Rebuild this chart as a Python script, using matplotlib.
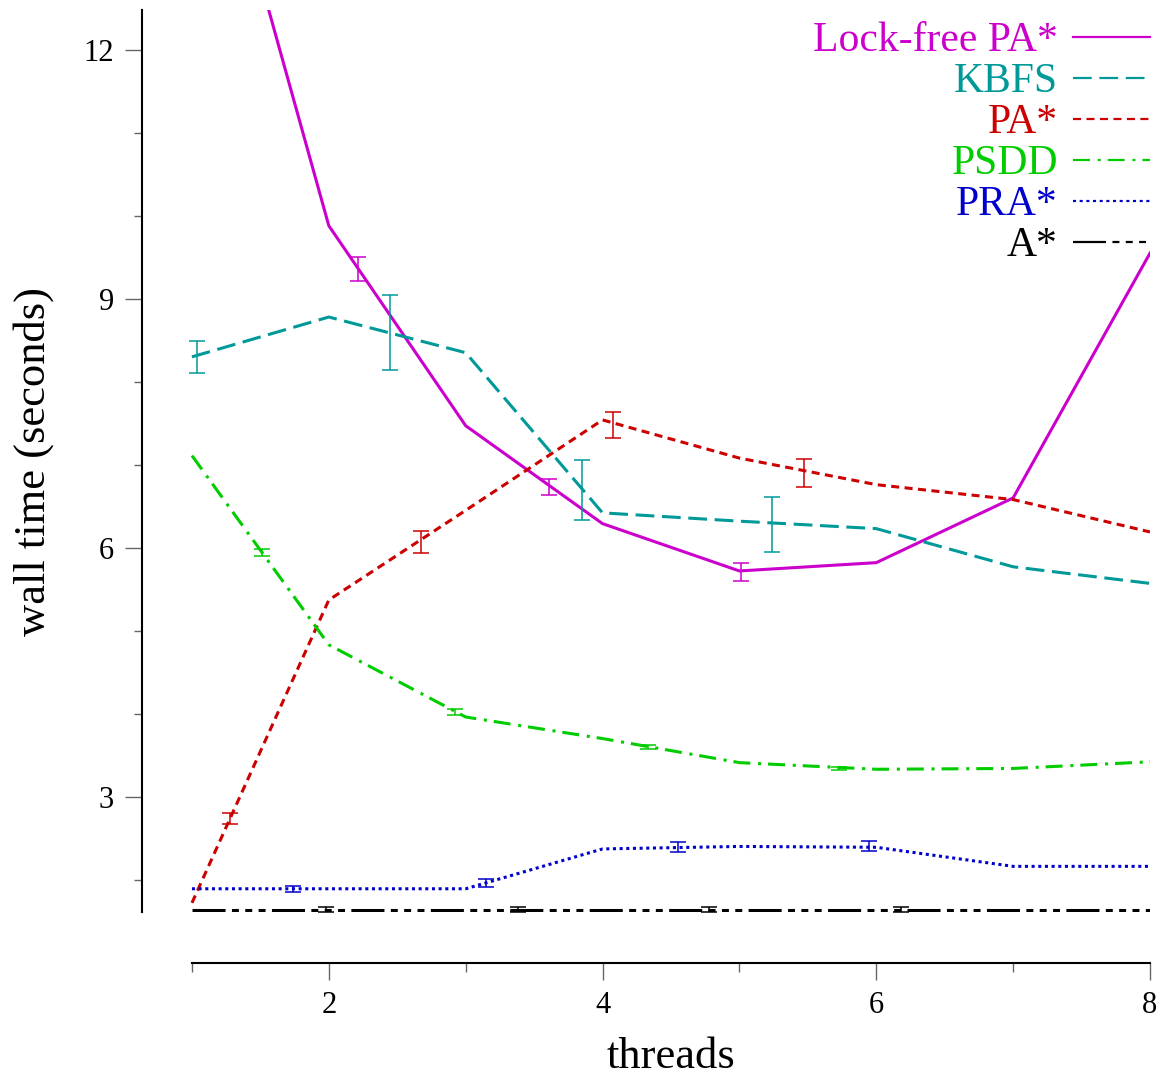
"""Wall time vs. threads for parallel search algorithms."""
import numpy as np
import matplotlib
matplotlib.use('Agg')
import matplotlib.pyplot as plt
from matplotlib.lines import Line2D
from matplotlib.ticker import MultipleLocator

plt.rcParams.update({
    'font.family': ['Liberation Serif', 'DejaVu Serif'],
    'lines.scale_dashes': False,
})

# Datos
threads = [1, 2, 3, 4, 5, 6, 7, 8]

lockfree = [15.8, 9.88, 7.47, 6.29, 5.72, 5.82, 6.60, 9.55]
kbfs = [8.30, 8.78, 8.35, 6.42, 6.32, 6.23, 5.77, 5.57]
pastar = [1.72, 5.37, 6.45, 7.54, 7.08, 6.76, 6.58, 6.19]
psdd = [7.11, 4.83, 3.96, 3.70, 3.41, 3.33, 3.34, 3.42]
prastar = [1.89, 1.89, 1.89, 2.37, 2.40, 2.39, 2.16, 2.16]
astar = [1.64, 1.64, 1.64, 1.64, 1.64, 1.64, 1.64, 1.64]

# Barras de error (posición x, centro, semiancho)
lockfree_eb_x = [2.21, 3.61, 5.01]
lockfree_eb_y = [9.36, 6.73, 5.71]
lockfree_eb_e = [0.145, 0.10, 0.11]

kbfs_eb_x = [1.04, 2.45, 3.85, 5.24]
kbfs_eb_y = [8.30, 8.59, 6.70, 6.28]
kbfs_eb_e = [0.19, 0.45, 0.36, 0.33]

pastar_eb_x = [1.28, 2.67, 4.08, 5.47]
pastar_eb_y = [2.74, 6.07, 7.48, 6.90]
pastar_eb_e = [0.066, 0.13, 0.16, 0.17]

psdd_eb_x = [1.51, 2.92, 4.33, 5.73]
psdd_eb_y = [5.94, 4.02, 3.60, 3.34]
psdd_eb_e = [0.04, 0.035, 0.025, 0.02]

prastar_eb_x = [1.74, 3.15, 4.55, 5.95]
prastar_eb_y = [1.89, 1.96, 2.39, 2.40]
prastar_eb_e = [0.035, 0.05, 0.06, 0.06]

astar_eb_x = [1.98, 3.38, 4.78, 6.18]
astar_eb_y = [1.64, 1.64, 1.64, 1.64]
astar_eb_e = [0.025, 0.025, 0.025, 0.025]

# Estilos
C_LF = '#CC00CC'
C_KB = '#009999'
C_PA = '#CC0000'
C_PS = '#00CC00'
C_PR = '#0000CC'
C_A = '#000000'

series = [
    ('Lock-free PA*', lockfree, C_LF, None,
     (lockfree_eb_x, lockfree_eb_y, lockfree_eb_e)),
    ('KBFS', kbfs, C_KB, (13.5, 5.5),
     (kbfs_eb_x, kbfs_eb_y, kbfs_eb_e)),
    ('PA*', pastar, C_PA, (5.8, 3.9),
     (pastar_eb_x, pastar_eb_y, pastar_eb_e)),
    ('PSDD', psdd, C_PS, (12.2, 5.6, 2.2, 5.0),
     (psdd_eb_x, psdd_eb_y, psdd_eb_e)),
    ('PRA*', prastar, C_PR, (2.2, 2.6),
     (prastar_eb_x, prastar_eb_y, prastar_eb_e)),
    ('A*', astar, C_A, (23.8, 4.6, 5.0, 4.6, 5.0, 4.6, 5.0, 4.6),
     (astar_eb_x, astar_eb_y, astar_eb_e)),
]

fig = plt.figure(figsize=(11.63, 10.77), dpi=100)
ax = fig.add_axes([142 / 1163, 1 - 912 / 1077, (1150 - 142) / 1163, (912 - 10) / 1077])

handles = []
for name, vals, col, dash, (ex, ey, ee) in series:
    ls = '-' if dash is None else (0, dash)
    ax.plot(threads, vals, color=col, linewidth=2.2, linestyle=ls, zorder=3)
    ax.errorbar(ex, ey, yerr=ee, fmt='none', ecolor=col, elinewidth=1.1,
                capsize=6, capthick=1.1, zorder=4)
    handles.append(Line2D([0], [0], color=col, linewidth=1.6, linestyle=ls, label=name))

ax.set_xlim(1 - 50 / 137, 8)
ax.set_ylim(1.61, 12.48)

# Ejes
for s in ['top', 'right']:
    ax.spines[s].set_visible(False)
ax.spines['left'].set_linewidth(1.5)
ax.spines['bottom'].set_linewidth(1.5)
ax.spines['bottom'].set_position(('outward', 37))
ax.spines['bottom'].set_bounds(1, 8)

ax.xaxis.set_major_locator(MultipleLocator(2))
ax.xaxis.set_minor_locator(MultipleLocator(1))
ax.yaxis.set_major_locator(MultipleLocator(3))
ax.yaxis.set_minor_locator(MultipleLocator(1))
ax.tick_params(axis='y', which='major', length=12, width=1.0, color='#666666',
               labelsize=22, pad=8)
ax.tick_params(axis='y', which='minor', length=6, width=1.0, color='#666666')
ax.tick_params(axis='x', which='major', length=12, width=1.0, color='#666666',
               labelsize=22, pad=8)
ax.tick_params(axis='x', which='minor', length=6.5, width=1.0, color='#666666')

ax.set_xlabel('threads', fontsize=32)
ax.xaxis.set_label_coords((671 - 142) / (1150 - 142), -0.139)
ax.set_ylabel('wall time (seconds)', fontsize=32)
ax.yaxis.set_label_coords(-0.087, 0.5)

leg = ax.legend(handles=handles, loc='upper right', bbox_to_anchor=(1.0, 0.987),
                frameon=False, markerfirst=False, fontsize=30,
                handlelength=1.85, handletextpad=0.36, labelspacing=0.06,
                borderpad=0, borderaxespad=0, labelcolor='linecolor')

fig.savefig('out.png', dpi=100)
